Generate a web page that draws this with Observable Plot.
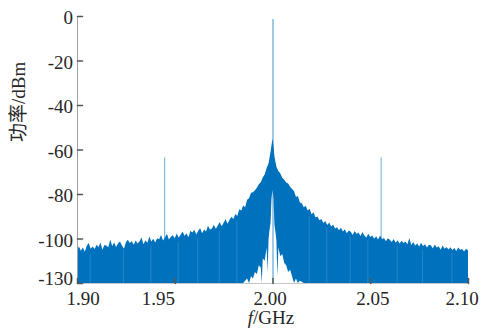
<!DOCTYPE html>
<html><head><meta charset="utf-8">
<script src="https://cdn.jsdelivr.net/npm/d3@7"></script>
<script src="https://cdn.jsdelivr.net/npm/@observablehq/plot@0.6"></script>
<style>html,body{margin:0;padding:0;background:#fff;}</style>
</head><body><div id="chart"></div>
<script>
// ---- data ----
// Frequency grid (GHz)
const freqGHz = [
  1.900,1.901,1.902,1.903,1.904,1.905,1.906,1.907,1.908,1.909,
  1.910,1.911,1.912,1.913,1.914,1.915,1.916,1.917,1.918,1.919,
  1.920,1.921,1.922,1.923,1.924,1.925,1.926,1.927,1.928,1.929,
  1.930,1.931,1.932,1.933,1.934,1.935,1.936,1.937,1.938,1.939,
  1.940,1.941,1.942,1.943,1.944,1.945,1.946,1.947,1.948,1.949,
  1.950,1.951,1.952,1.953,1.954,1.955,1.956,1.957,1.958,1.959,
  1.960,1.961,1.962,1.963,1.964,1.965,1.966,1.967,1.968,1.969,
  1.970,1.971,1.972,1.973,1.974,1.975,1.976,1.977,1.978,1.979,
  1.980,1.981,1.982,1.983,1.984,1.985,1.986,1.987,1.988,1.989,
  1.990,1.991,1.992,1.993,1.994,1.995,1.996,1.997,1.998,
  1.9985,1.999,1.9995,2.000,2.0005,2.001,2.0015,
  2.002,2.003,2.004,2.005,2.006,2.007,2.008,2.009,2.010,
  2.011,2.012,2.013,2.014,2.015,2.016,2.017,2.018,2.019,2.020,
  2.021,2.022,2.023,2.024,2.025,2.026,2.027,2.028,2.029,2.030,
  2.031,2.032,2.033,2.034,2.035,2.036,2.037,2.038,2.039,2.040,
  2.041,2.042,2.043,2.044,2.045,2.046,2.047,2.048,2.049,2.050,
  2.051,2.052,2.053,2.054,2.055,2.056,2.057,2.058,2.059,2.060,
  2.061,2.062,2.063,2.064,2.065,2.066,2.067,2.068,2.069,2.070,
  2.071,2.072,2.073,2.074,2.075,2.076,2.077,2.078,2.079,2.080,
  2.081,2.082,2.083,2.084,2.085,2.086,2.087,2.088,2.089,2.090,
  2.091,2.092,2.093,2.094,2.095,2.096,2.097,2.098,2.099,2.100
];
// Upper envelope of the spectrum (dBm)
const upperDbm = [
  -105.0,-103.6,-105.5,-104.1,-105.9,-103.3,-102.0,-104.6,-103.6,-104.7,
  -102.8,-103.8,-101.8,-105.0,-102.9,-103.1,-103.9,-100.4,-103.4,-101.8,
  -103.8,-102.1,-101.3,-103.1,-104.6,-101.7,-100.6,-102.0,-101.1,-102.8,
  -100.9,-102.3,-101.2,-99.5,-102.6,-100.8,-101.9,-99.1,-101.4,-100.1,
  -101.8,-99.9,-100.3,-98.4,-100.9,-99.6,-97.9,-100.5,-99.2,-98.5,
  -99.9,-97.8,-99.6,-98.3,-96.9,-98.8,-97.6,-99.4,-96.5,-97.3,
  -96.1,-98.2,-96.5,-95.4,-97.6,-95.9,-96.8,-94.3,-96.0,-95.5,
  -93.8,-95.6,-94.2,-92.6,-94.5,-92.9,-91.3,-93.4,-91.6,-90.2,
  -91.2,-89.0,-89.9,-86.9,-87.4,-85.2,-85.9,-82.6,-81.9,-79.4,
  -79.2,-78.3,-77.2,-75.6,-74.7,-72.6,-71.2,-68.3,-66.2,
  -63.5,-61.0,-58.0,-55.0,-58.5,-63.0,-65.5,
  -67.8,-69.7,-70.8,-72.7,-73.6,-74.8,-75.3,-76.7,-77.8,
  -78.6,-81.3,-80.9,-83.8,-84.2,-85.9,-85.3,-87.4,-86.6,-89.1,
  -88.2,-90.6,-90.1,-91.8,-91.2,-93.0,-92.1,-93.9,-92.8,-94.6,
  -93.7,-95.5,-94.9,-96.3,-95.2,-96.9,-95.8,-97.6,-96.4,-97.0,
  -98.4,-96.6,-98.0,-97.3,-98.9,-97.1,-98.6,-99.5,-97.9,-99.3,
  -98.7,-100.1,-99.0,-100.5,-98.6,-100.3,-99.8,-101.2,-99.9,-100.6,
  -101.6,-100.2,-101.9,-100.8,-102.3,-101.0,-102.0,-101.3,-102.6,-99.8,
  -102.9,-101.6,-103.1,-102.2,-103.6,-101.9,-103.4,-102.6,-104.0,-102.8,
  -103.0,-104.4,-102.7,-104.1,-103.5,-105.0,-103.2,-104.6,-103.8,-104.9,
  -103.9,-105.2,-104.3,-105.6,-104.0,-105.1,-104.7,-105.8,-104.6,-105.4
];
// Lower envelope near the carrier (the white notch under the close-in noise)
const notchGHz = [1.985,1.987,1.988,1.989,1.990,1.991,1.992,1.993,1.994,1.9945,
                  1.995,1.996,1.997,1.9975,1.998,1.9985,1.999,1.9995,2.000,2.0005,
                  2.001,2.0015,2.002,2.0025,2.003,2.004,2.005,2.006,2.007,2.008,
                  2.009,2.010,2.011,2.012,2.013,2.014,2.016];
const notchDbm = [-120,-118,-120,-117,-118,-115,-116,-112,-113,-120,
                  -109,-110,-104,-115,-100,-96,-93,-82,-78,-82,
                  -94,-97,-101,-117,-104,-108,-107,-111,-112,-115,
                  -114,-117,-120,-118,-120,-119,-120];
// Lighter streaks inside the noise floor
const streakGHz = [1.9065,1.9235,1.9375,1.9515,1.9615,1.9725,1.9815,
                   2.0185,2.0275,2.0395,2.0485,2.0635,2.0765,2.0915];
const streakTopDbm = [-107,-105,-103.5,-101.5,-99.5,-96.5,-92,
                      -90,-95,-99,-100.5,-103.5,-105,-106.5];
// Discrete lines
const spurGHz = [1.9446, 2.0553];
const spurDbm = [-63.6, -63.6];
const carrierGHz = [2.0];
const carrierDbm = [-1.4];

// ---- axes ----
const xDomain = [1.90, 2.10];
const yDomain = [-120, 0];
const xTicks = [1.90, 1.95, 2.00, 2.05, 2.10];
const xTickLabels = ["1.90", "1.95", "2.00", "2.05", "2.10"];
const yTicks = [0, -20, -40, -60, -80, -100, -120];
const yTickLabels = ["0", "-20", "-40", "-60", "-80", "-100", "-130"];
const xLabel = "f/GHz";
const yLabel = "功率/dBm";

const n = Math.min(freqGHz.length, upperDbm.length);
const rows = freqGHz.slice(0, n).map((f, i) => ({f, hi: upperDbm[i]}));
const notch = notchGHz.map((f, i) => ({f, lo: notchDbm[i]}));
const streaks = streakGHz.map((f, i) => ({f, v: streakTopDbm[i]}));
const spurs = spurGHz.map((f, i) => ({f, v: spurDbm[i]}));
const carrier = carrierGHz.map((f, i) => ({f, v: carrierDbm[i]}));

// layout nudges of the tick labels, as placed in the reference figure (px)
const xLabelNudge = [5.5, -17, -3, 2, -6.5];
const yLabelNudge = [1.5, 1.5, 1.5, 1.5, 1.5, 1.5, -4.5];

// pick an installed Times-like font
function pickFont(cands) {
  const c = document.createElement("canvas").getContext("2d");
  const s = "1.90 -130 f/GHz dBm mwiIl";
  const w = f => { c.font = "40px " + f; return c.measureText(s).width; };
  for (const f of cands) {
    const q = '"' + f + '"';
    if (w(q + ", monospace") !== w("monospace") || w(q + ", sans-serif") !== w("sans-serif")) return q;
  }
  return "serif";
}
const serif = pickFont(["Liberation Serif", "Tinos", "Times New Roman", "Times", "Nimbus Roman",
  "Nimbus Roman No9 L", "FreeSerif", "DejaVu Serif", "Noto Serif", "Bitstream Vera Serif"]);
const latinFont = serif + ", serif";
const cjkFont = serif + ", 'Noto Sans CJK SC', sans-serif";

const tickShape = {draw(ctx, l) { ctx.moveTo(0, 0); ctx.lineTo(0, -l); }};
const blue = "#0072BD";
const ink = "#262626";
const FS = 19;

const marks = [
  Plot.areaY(rows, {x: "f", y1: yDomain[0], y2: "hi", fill: blue, curve: "linear"}),
  Plot.areaY(notch, {x: "f", y1: yDomain[0], y2: "lo", fill: "white", curve: "linear"}),
  Plot.ruleX(streaks, {x: "f", y1: yDomain[0], y2: "v", stroke: "white", strokeOpacity: 0.14, strokeWidth: 1}),
  Plot.ruleX(spurs, {x: "f", y1: yDomain[0], y2: "v", stroke: blue, strokeOpacity: 0.6, strokeWidth: 1}),
  Plot.ruleX(carrier, {x: "f", y1: yDomain[0], y2: "v", stroke: blue, strokeOpacity: 0.75, strokeWidth: 1}),
  Plot.ruleX([xDomain[0]], {stroke: "#a0a0a0", strokeWidth: 1, clip: false}),
  Plot.ruleY([yDomain[0]], {stroke: "#a0a0a0", strokeWidth: 1, strokeOpacity: 0.6, clip: false}),
  Plot.vector(yTicks, {y: d => d, frameAnchor: "left", length: 5, rotate: 90, anchor: "start", shape: tickShape, stroke: "#555", clip: false}),
  Plot.vector(xTicks, {x: d => d, frameAnchor: "bottom", length: 5, rotate: 0, anchor: "start", shape: tickShape, stroke: "#555", clip: false})
];
xTicks.forEach((t, i) => marks.push(
  Plot.text([t], {x: d => d, text: () => xTickLabels[i], frameAnchor: "bottom", lineAnchor: "top",
    dy: 7.5, dx: xLabelNudge[i], fontSize: FS, fontFamily: latinFont, fill: ink, clip: false})
));
yTicks.forEach((t, i) => marks.push(
  Plot.text([t], {y: d => d, text: () => yTickLabels[i], frameAnchor: "left", textAnchor: "end",
    dx: -4.5, dy: yLabelNudge[i], fontSize: FS, fontFamily: latinFont, fill: ink, clip: false})
));
marks.push(
  Plot.text([yLabel], {text: d => d, frameAnchor: "left", rotate: -90, dx: -59, dy: -8, fontSize: FS, fontFamily: cjkFont, fill: ink, clip: false}),
  Plot.text([xLabel], {text: d => d, frameAnchor: "bottom", dy: 40.5, dx: -2, fontSize: FS, fontFamily: latinFont, fill: ink, className: "xlab", clip: false})
);

const chart = Plot.plot({
  width: 481,
  height: 333,
  marginLeft: 77,
  marginRight: 13,
  marginTop: 16,
  marginBottom: 50,
  x: {domain: xDomain, axis: null},
  y: {domain: yDomain, axis: null},
  clip: true,
  style: {fontFamily: latinFont, fontSize: FS + "px", background: "white", color: ink},
  marks
});
document.getElementById("chart").appendChild(chart);

// italic "f" in the x label
d3.select(chart).selectAll(".xlab text").each(function () {
  const t = d3.select(this);
  t.text(null);
  t.append("tspan").attr("font-style", "italic").text(xLabel.slice(0, 1));
  t.append("tspan").text(xLabel.slice(1));
});
</script></body></html>
